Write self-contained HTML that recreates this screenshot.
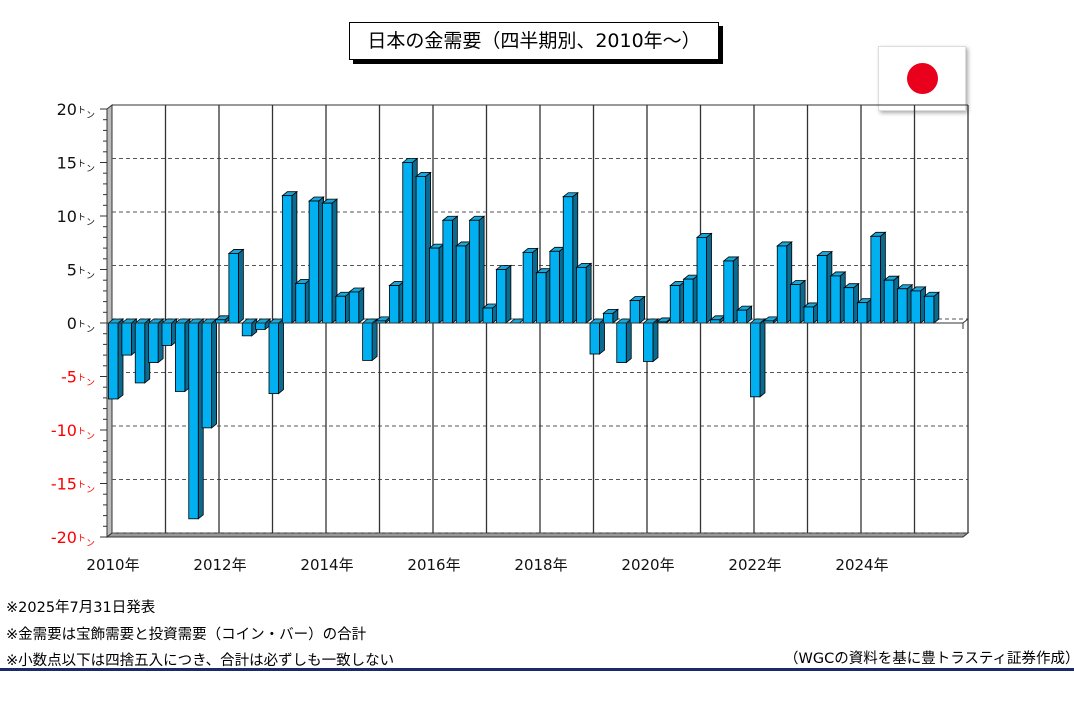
<!DOCTYPE html><html><head><meta charset="utf-8"><style>
body{margin:0;width:1074px;height:707px;background:#fff;overflow:hidden;font-family:"DejaVu Sans","Noto Sans CJK JP",sans-serif;position:relative}
.t{position:absolute;white-space:nowrap}
</style></head><body>
<div class="t" style="left:349px;top:22px;width:368px;height:36px;border:1px solid #000;box-shadow:4px 4px 0 #000;background:#fff;font-size:19px;line-height:36px;text-align:center;letter-spacing:0px">日本の金需要（四半期別、2010年～）</div>
<div class="t" style="left:878px;top:46px;width:86px;height:63px;border:1px solid #ddd;box-shadow:2px 2px 4px #aaa;background:#fff"><div style="position:absolute;left:28px;top:16px;width:31px;height:31px;border-radius:50%;background:#e8001c"></div></div>
<svg id="s" width="1074" height="707" style="position:absolute;left:0;top:0"></svg>
<div class="t" style="left:6px;top:596px;font-size:14.5px">※2025年7月31日発表</div>
<div class="t" style="left:6px;top:623px;font-size:14.5px">※金需要は宝飾需要と投資需要（コイン・バー）の合計</div>
<div class="t" style="left:6px;top:649px;font-size:14.5px">※小数点以下は四捨五入につき、合計は必ずしも一致しない</div>
<div class="t" style="left:784px;top:647px;font-size:14.5px">（WGCの資料を基に豊トラスティ証券作成）</div>
<div style="position:absolute;left:0;top:668px;width:1074px;height:3px;background:#1a2a6c"></div>
<script>
var v=[-7.1,-3.0,-5.6,-3.7,-2.1,-6.4,-18.3,-9.8,0.3,6.5,-1.2,-0.6,-6.6,11.9,3.7,11.4,11.2,2.5,2.9,-3.5,0.2,3.5,15.0,13.7,7.0,9.6,7.2,9.6,1.4,5.0,0.0,6.6,4.7,6.7,11.8,5.2,-2.9,0.9,-3.7,2.1,-3.6,0.1,3.5,4.1,8.0,0.3,5.8,1.2,-6.9,0.2,7.2,3.6,1.5,6.3,4.4,3.3,1.9,8.1,4.0,3.2,3.0,2.5];
var L=107,Z=323,S=10.7,dx=5,dy=4,Y=53.5,q=Y/4,R=L+16*Y,h='';
h+='<polygon points="'+L+','+(Z-20*S)+' '+(L+dx)+','+(Z-20*S-dy)+' '+(L+dx)+','+(Z+20*S-dy)+' '+L+','+(Z+20*S)+'" fill="#bbb" stroke="#333"/>';
h+='<polygon points="'+L+','+(Z+20*S)+' '+(L+dx)+','+(Z+20*S-dy)+' '+(R+dx)+','+(Z+20*S-dy)+' '+R+','+(Z+20*S)+'" fill="#999" stroke="#333"/>';
for(var k=-20;k<=20;k+=5){var y=Z-k*S-dy;h+='<line x1="'+(L+dx)+'" y1="'+y+'" x2="'+(R+dx)+'" y2="'+y+'" stroke="#555" stroke-dasharray="4,3"/>';
h+='<text x="'+(L-12)+'" y="'+(Z-k*S+6)+'" font-size="16" text-anchor="end" fill="'+(k<0?'#f00':'#111')+'">'+k+'<tspan font-size="9" dy="-2">ト</tspan><tspan font-size="9" dy="5">ン</tspan></text>';}
for(var k=-20;k<=20;k++){var y=Z-k*S;h+='<line x1="'+(L-(k%5?4:7))+'" y1="'+y+'" x2="'+L+'" y2="'+y+'" stroke="#333"/>';}
h+='<line x1="'+(L+dx)+'" y1="'+(Z-20*S-dy)+'" x2="'+(R+dx)+'" y2="'+(Z-20*S-dy)+'" stroke="#333"/>';
for(var i=1;i<=16;i++){var x=L+i*Y+dx;h+='<line x1="'+x+'" y1="'+(Z-20*S-dy)+'" x2="'+x+'" y2="'+(Z+20*S-dy)+'" stroke="#333" stroke-width="1.3"/>';}
for(var i=0;i<16;i+=2)h+='<text x="'+(L+i*Y+6)+'" y="570" font-size="15" text-anchor="middle" fill="#111">'+(2010+i)+'年</text>';
v.forEach(function(val,i){var x=L+i*q+1.5,w=9.5,t=Z-val*S,y0=Math.min(t,Z),y1=Math.max(t,Z);
h+='<polygon points="'+(x+w)+','+y0+' '+(x+w+dx)+','+(y0-dy)+' '+(x+w+dx)+','+(y1-dy)+' '+(x+w)+','+y1+'" fill="#0a6a90" stroke="#000" stroke-width=".8"/>';
h+='<polygon points="'+x+','+y0+' '+(x+dx)+','+(y0-dy)+' '+(x+w+dx)+','+(y0-dy)+' '+(x+w)+','+y0+'" fill="#1aa6d8" stroke="#000" stroke-width=".8"/>';
h+='<rect x="'+x+'" y="'+y0+'" width="'+w+'" height="'+(y1-y0)+'" fill="#00b0f0" stroke="#000" stroke-width=".8"/>';});
h+='<line x1="'+L+'" y1="'+Z+'" x2="'+R+'" y2="'+Z+'" stroke="#333"/><line x1="'+R+'" y1="'+Z+'" x2="'+(R+dx)+'" y2="'+(Z-dy)+'" stroke="#333"/><line x1="'+R+'" y1="'+Z+'" x2="'+R+'" y2="'+(Z+6)+'" stroke="#333"/>';
h+='<line x1="'+L+'" y1="'+(Z-20*S)+'" x2="'+L+'" y2="'+(Z+20*S)+'" stroke="#333"/>';
document.getElementById('s').innerHTML=h;
</script>
</body></html>
